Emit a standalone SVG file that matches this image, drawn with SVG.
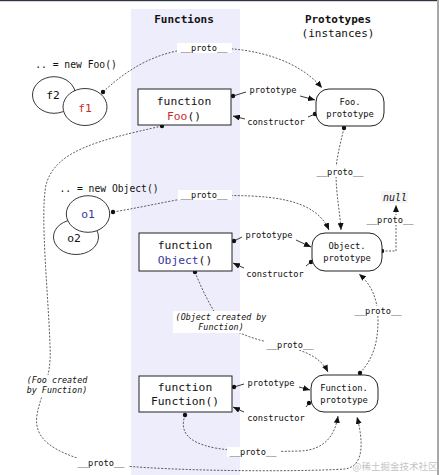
<svg xmlns="http://www.w3.org/2000/svg" width="439" height="475" viewBox="0 0 439 475">
<style>
  text { font-family: "DejaVu Sans Mono", "Liberation Mono", monospace; fill: #111; }
  .title { font-size: 11px; font-weight: bold; }
  .sub { font-size: 11px; }
  .fn { font-size: 11.3px; }
  .pt { font-size: 8.8px; }
  .lbl { font-size: 8.7px; }
  .it { font-size: 8.4px; font-style: italic; }
  .red { fill: #cc2a2a; }
  .blue { fill: #35359e; }
  .box { fill: #fff; stroke: #222; stroke-width: 1; }
  .ell { fill: #fff; stroke: #222; stroke-width: 0.9; }
  .dash { fill: none; stroke: #333; stroke-width: 0.8; stroke-dasharray: 2 1.5; }
  .solid { fill: none; stroke: #222; stroke-width: 0.9; }
  .bg { fill: #fff; }
  .dot { fill: #111; }
</style>
<defs>
  <marker id="arr" markerUnits="userSpaceOnUse" markerWidth="8" markerHeight="6" refX="7" refY="3" orient="auto">
    <path d="M0,0 L7,3 L0,6 Z" fill="#111"/>
  </marker>
</defs>
<rect x="0" y="0" width="439" height="475" fill="#fff"/>
<rect x="0" y="0" width="437" height="1.2" fill="#2e3440"/>
<rect x="437" y="0" width="2" height="475" fill="#a8a8a8"/>
<rect id="functions-band" x="131" y="9" width="109" height="466" fill="#ededfc"/>

<text class="title" x="184" y="23" text-anchor="middle">Functions</text>
<text class="title" x="338" y="23" text-anchor="middle">Prototypes</text>
<text class="sub" x="338" y="37" text-anchor="middle">(instances)</text>

<g id="connectors">
  <!-- f1 -> Foo.prototype -->
  <path class="dash" d="M103,92 C135,62 165,50 200,48 C262,46 302,64 322,88" marker-end="url(#arr)"/>
  <!-- Foo -> Function.prototype (big loop) -->
  <path class="dash" d="M162,126 C100,140 55,150 46,185 C40,215 48,290 50,345 C52,380 40,395 37,415 C33,440 55,452 90,462 C150,472 300,472 345,469 C365,466 363,440 357,417" marker-end="url(#arr)"/>
  <!-- Foo.prototype -> Object.prototype -->
  <path class="dash" d="M344,128 C340,145 336,160 336,172 C336,195 340,212 341,230" marker-end="url(#arr)"/>
  <!-- o1 -> Object.prototype -->
  <path class="dash" d="M113,212 C150,206 180,198 205,196 C270,194 315,198 329,230" marker-end="url(#arr)"/>
  <!-- Object.prototype -> null -->
  <path class="dash" d="M382,251 L396,251 L396,205" marker-end="url(#arr)"/>
  <!-- Object -> Function.prototype -->
  <path class="dash" d="M195,272 C202,290 210,305 218,318 C230,332 255,340 285,346 C310,352 322,360 328,372" marker-end="url(#arr)"/>
  <!-- Function.prototype -> Object.prototype -->
  <path class="dash" d="M360,373 C372,360 378,345 378,320 C378,300 372,285 359,274" marker-end="url(#arr)"/>
  <!-- Function -> Function.prototype -->
  <path class="dash" d="M185,415 C180,430 185,442 215,448 C240,452 260,452 300,451 C325,450 335,435 338,416" marker-end="url(#arr)"/>

  <!-- prototype / constructor links -->
  <path class="solid" d="M233,96 L246,92"/>
  <path class="solid" d="M300,96 L315,100" marker-end="url(#arr)"/>
  <path class="solid" d="M315,114 L308,117"/>
  <path class="solid" d="M245,119 L233,116" marker-end="url(#arr)"/>

  <path class="solid" d="M234,241 L242,237"/>
  <path class="solid" d="M296,240 L311,247" marker-end="url(#arr)"/>
  <path class="solid" d="M311,262 L306,266"/>
  <path class="solid" d="M244,268 L233,263" marker-end="url(#arr)"/>

  <path class="solid" d="M234,387 L244,384"/>
  <path class="solid" d="M299,387 L310,390" marker-end="url(#arr)"/>
  <path class="solid" d="M309,403 L306,407"/>
  <path class="solid" d="M244,412 L233,407" marker-end="url(#arr)"/>

  <!-- dots -->
  <circle class="dot" cx="103" cy="92" r="2.2"/>
  <circle class="dot" cx="162" cy="126" r="2.2"/>
  <circle class="dot" cx="344" cy="128" r="2.2"/>
  <circle class="dot" cx="113" cy="212" r="2.2"/>
  <circle class="dot" cx="382" cy="251" r="2.2"/>
  <circle class="dot" cx="195" cy="272" r="2.2"/>
  <circle class="dot" cx="360" cy="373" r="2.2"/>
  <circle class="dot" cx="185" cy="415" r="2.2"/>
  <circle class="dot" cx="233" cy="96" r="2.2"/>
  <circle class="dot" cx="315" cy="114" r="2.2"/>
  <circle class="dot" cx="234" cy="241" r="2.2"/>
  <circle class="dot" cx="311" cy="262" r="2.2"/>
  <circle class="dot" cx="234" cy="387" r="2.2"/>
  <circle class="dot" cx="309" cy="403" r="2.2"/>

  <!-- labels -->
  <rect class="bg" x="177" y="43" width="55" height="10"/>
  <text class="lbl" x="204" y="51" text-anchor="middle">__proto__</text>
  <text class="lbl" x="273" y="93" text-anchor="middle">prototype</text>
  <text class="lbl" x="276" y="125" text-anchor="middle">constructor</text>
  <rect class="bg" x="314" y="166" width="52" height="11"/>
  <text class="lbl" x="340" y="175" text-anchor="middle">__proto__</text>
  <rect class="bg" x="178" y="190" width="54" height="10"/>
  <text class="lbl" x="204" y="198" text-anchor="middle">__proto__</text>
  <rect class="bg" x="364" y="215" width="52" height="10"/>
  <text class="lbl" x="390" y="223" text-anchor="middle">__proto__</text>
  <text class="lbl" x="269" y="238" text-anchor="middle">prototype</text>
  <text class="lbl" x="275" y="277" text-anchor="middle">constructor</text>
  <rect class="bg" x="173" y="311" width="94" height="22"/>
  <text class="it" x="221" y="320" text-anchor="middle">(Object created by</text>
  <text class="it" x="221" y="330" text-anchor="middle">Function)</text>
  <rect class="bg" x="264" y="340" width="52" height="10"/>
  <text class="lbl" x="290" y="348" text-anchor="middle">__proto__</text>
  <rect class="bg" x="352" y="306" width="52" height="10"/>
  <text class="lbl" x="378" y="314" text-anchor="middle">__proto__</text>
  <text class="lbl" x="271" y="386" text-anchor="middle">prototype</text>
  <text class="lbl" x="276" y="421" text-anchor="middle">constructor</text>
  <rect class="bg" x="227" y="447" width="53" height="10"/>
  <text class="lbl" x="253" y="455" text-anchor="middle">__proto__</text>
  <rect class="bg" x="75" y="458" width="53" height="10"/>
  <text class="lbl" x="101" y="466" text-anchor="middle">__proto__</text>
  <rect class="bg" x="27" y="375" width="61" height="21"/>
  <text class="it" x="57" y="383" text-anchor="middle">(Foo created</text>
  <text class="it" x="57" y="393" text-anchor="middle">by Function)</text>
</g>

<g id="foo-instances">
  <text class="lbl" x="76" y="68" text-anchor="middle" style="font-size:9.7px">.. = new Foo()</text>
  <ellipse class="ell" cx="54" cy="95" rx="21.5" ry="18.3"/>
  <text class="fn" x="53" y="99" text-anchor="middle">f2</text>
  <ellipse class="ell" cx="85" cy="107" rx="22" ry="18.5"/>
  <text class="fn red" x="85" y="112" text-anchor="middle">f1</text>
</g>

<g id="object-instances">
  <text class="lbl" x="109" y="192" text-anchor="middle" style="font-size:9.7px">.. = new Object()</text>
  <ellipse class="ell" cx="76" cy="237" rx="22.5" ry="17.5"/>
  <text class="fn" x="74" y="242" text-anchor="middle">o2</text>
  <ellipse class="ell" cx="88" cy="214" rx="21.7" ry="18.3"/>
  <text class="fn blue" x="88" y="218" text-anchor="middle">o1</text>
</g>

<g id="function-foo">
  <rect class="box" x="138" y="89" width="93" height="36"/>
  <text class="fn" x="184" y="105" text-anchor="middle">function</text>
  <text class="fn" x="184" y="120" text-anchor="middle"><tspan class="red">Foo</tspan>()</text>
</g>

<g id="foo-prototype">
  <rect class="box" x="316" y="89" width="68" height="37" rx="13" ry="13"/>
  <text class="pt" x="350" y="105" text-anchor="middle">Foo.</text>
  <text class="pt" x="350" y="117" text-anchor="middle">prototype</text>
</g>

<g id="function-object">
  <rect class="box" x="139" y="233" width="93" height="38"/>
  <text class="fn" x="185" y="249" text-anchor="middle">function</text>
  <text class="fn" x="185" y="264" text-anchor="middle"><tspan class="blue">Object</tspan>()</text>
</g>

<g id="object-prototype">
  <rect class="box" x="312" y="233" width="70" height="38" rx="13" ry="13"/>
  <text class="pt" x="347" y="249" text-anchor="middle">Object.</text>
  <text class="pt" x="347" y="261" text-anchor="middle">prototype</text>
</g>

<g id="null">
  <rect x="381" y="191" width="27" height="12" fill="#f4f4f4"/>
  <text x="395" y="201" text-anchor="middle" style="font-size:10px;font-style:italic">null</text>
</g>

<g id="function-function">
  <rect class="box" x="139" y="376" width="93" height="36"/>
  <text class="fn" x="185" y="391" text-anchor="middle">function</text>
  <text class="fn" x="185" y="405" text-anchor="middle">Function()</text>
</g>

<g id="function-prototype">
  <rect class="box" x="311" y="375" width="67" height="37" rx="13" ry="13"/>
  <text class="pt" x="344" y="391" text-anchor="middle">Function.</text>
  <text class="pt" x="344" y="403" text-anchor="middle">prototype</text>
</g>

<text x="395" y="470" text-anchor="middle" style="font-family:'Noto Sans CJK SC','Noto Sans',sans-serif;font-size:9.5px;fill:#c4c4c4">@稀土掘金技术社区</text>
</svg>
